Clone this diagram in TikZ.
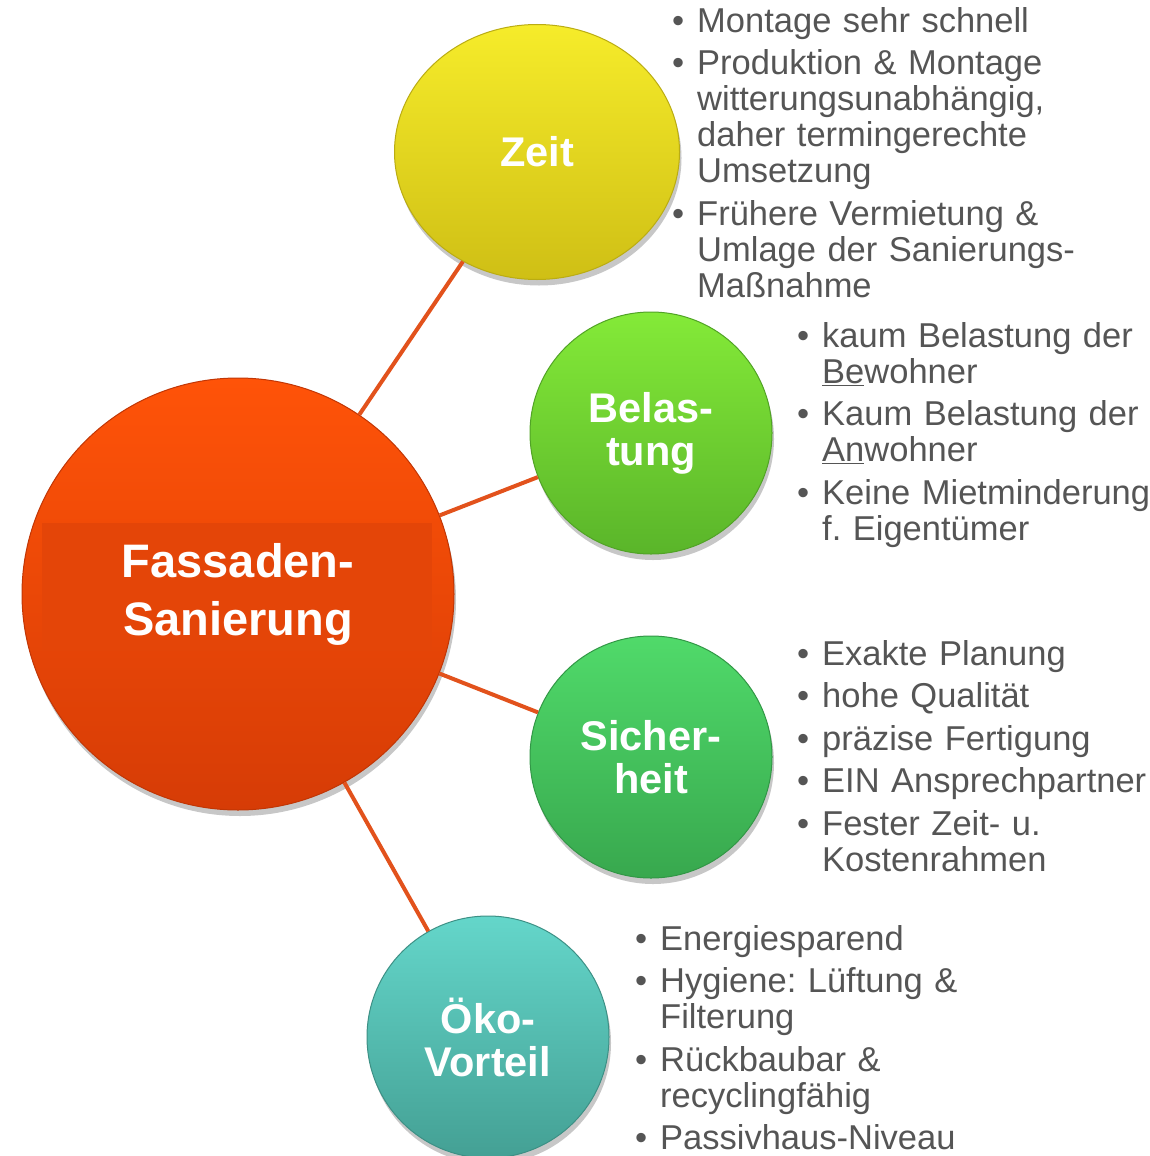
\documentclass[tikz,border=0pt]{standalone}
\usepackage{fontspec}
\setmainfont{Liberation Sans}
\usepackage{enumitem}
\usetikzlibrary{shapes.geometric, shadows, calc}
\definecolor{LinkOrange}{HTML}{E2521C}
\definecolor{TextGray}{HTML}{555555}
\definecolor{FassTop}{HTML}{FF5308}
\definecolor{FassBottom}{HTML}{D63C06}
\definecolor{FassBand}{HTML}{E44508}
\definecolor{ZeitTop}{HTML}{F6EC2A}
\definecolor{ZeitBottom}{HTML}{CFBF15}
\definecolor{BelTop}{HTML}{84EA38}
\definecolor{BelBottom}{HTML}{5AB52A}
\definecolor{SichTop}{HTML}{50DA6A}
\definecolor{SichBottom}{HTML}{38A84E}
\definecolor{OekoTop}{HTML}{64D6CA}
\definecolor{OekoBottom}{HTML}{44A094}
\setlist[itemize]{label=\textbullet, leftmargin=25pt, labelsep=0pt, labelwidth=25pt,
  align=left, topsep=0pt, partopsep=0pt, parsep=0pt, itemsep=6.5pt}
\tikzset{
  topic/.style={circle, minimum size=242pt, inner sep=0pt, align=center, text=white,
    font=\fontsize{41.5}{43}\selectfont\bfseries, line width=1pt,
    drop shadow={shadow xshift=2pt, shadow yshift=-6pt, opacity=.22, fill=black}},
  pointlist/.style={anchor=north west, inner sep=0pt, text width=470pt, align=left,
    text=TextGray, font=\fontsize{34.5}{36}\selectfont\frenchspacing},
  link/.style={draw=LinkOrange, line width=4pt},
}
\begin{document}
\begin{tikzpicture}[x=1pt, y=-1pt]
\useasboundingbox (0,0) rectangle (1150,1156);

% Mitte
\node[topic, minimum size=432pt, font=\fontsize{47}{58}\selectfont\bfseries,
      top color=FassTop, bottom color=FassBottom, draw=FassBottom!90!black,
      path picture={\fill[FassBand] ($(path picture bounding box.center)+(-196,-71)$)
                    rectangle ($(path picture bounding box.center)+(194,57)$);}]
      (fass) at (238,594) {Fassaden-\\Sanierung};

% Themen
\node[topic, ellipse, minimum width=285pt, minimum height=255pt,
      top color=ZeitTop, bottom color=ZeitBottom, draw=ZeitBottom!90!black]
      (zeit) at (537,152) {Zeit};
\node[topic, top color=BelTop, bottom color=BelBottom, draw=BelBottom!90!black]
      (belastung) at (651,433) {Belas-\\tung};
\node[topic, top color=SichTop, bottom color=SichBottom, draw=SichBottom!90!black]
      (sicherheit) at (651,757) {Sicher-\\heit};
\node[topic, top color=OekoTop, bottom color=OekoBottom, draw=OekoBottom!90!black]
      (oeko) at (488,1037) {Öko-\\Vorteil};

\draw[link] (fass) -- (zeit);
\draw[link] (fass) -- (belastung);
\draw[link] (fass) -- (sicherheit);
\draw[link] (fass) -- (oeko);

% Stichpunkte
\node[pointlist] (zeitlist) at (672,-4) {%
  \begin{itemize}
  \item Montage sehr schnell
  \item Produktion \& Montage\\witterungsunabhängig,\\daher termingerechte\\Umsetzung
  \item Frühere Vermietung \&\\Umlage der Sanierungs-\\Maßnahme
  \end{itemize}};
\node[pointlist] (belastunglist) at (797,311) {%
  \begin{itemize}
  \item kaum Belastung der\\\underline{Be}wohner
  \item Kaum Belastung der\\\underline{An}wohner
  \item Keine Mietminderung\\f. Eigentümer
  \end{itemize}};
\node[pointlist] (sicherheitlist) at (797,629) {%
  \begin{itemize}
  \item Exakte Planung
  \item hohe Qualität
  \item präzise Fertigung
  \item EIN Ansprechpartner
  \item Fester Zeit- u.\\Kostenrahmen
  \end{itemize}};
\node[pointlist] (oekolist) at (635,914) {%
  \begin{itemize}
  \item Energiesparend
  \item Hygiene: Lüftung \&\\Filterung
  \item Rückbaubar \&\\recyclingfähig
  \item Passivhaus-Niveau
  \end{itemize}};
\end{tikzpicture}
\end{document}
